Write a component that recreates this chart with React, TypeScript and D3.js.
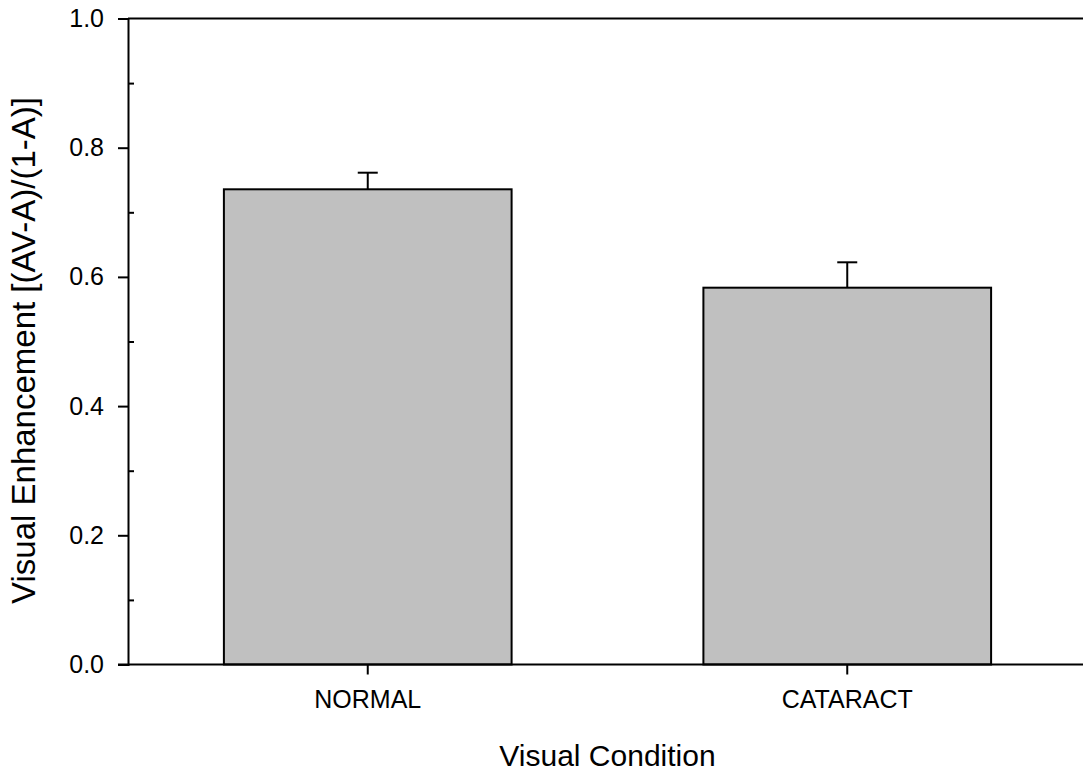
import React, { useEffect, useRef } from 'react';
import * as d3 from 'd3';

// data
const conditions = ['NORMAL', 'CATARACT'];
const enhancement = [0.7356, 0.5833];
const errorTop = [0.7613, 0.6226];
const majorTicks = [0, 0.2, 0.4, 0.6, 0.8, 1.0];
const minorTicks = [0.1, 0.3, 0.5, 0.7, 0.9];

const App = () => {
  const svgRef = useRef<SVGSVGElement>(null);

  useEffect(() => {
    const width = 1083, height = 775;
    const left = 128, right = 1087, top = 18.5, bottom = 664.5;
    const font = 'Arial, "Liberation Sans", sans-serif';

    const svg = d3.select(svgRef.current);
    svg.selectAll('*').remove();
    svg.attr('width', width).attr('height', height).style('background', 'white');

    const x = d3.scaleBand()
      .domain(conditions)
      .range([left, right])
      .paddingInner(0.4)
      .paddingOuter(0.2);

    const y = d3.scaleLinear().domain([0, 1]).range([bottom, top]);

    // bars
    svg.selectAll('rect.bar')
      .data(conditions)
      .enter()
      .append('rect')
      .attr('class', 'bar')
      .attr('x', d => x(d))
      .attr('width', x.bandwidth())
      .attr('y', (d, i) => y(enhancement[i]))
      .attr('height', (d, i) => y(0) - y(enhancement[i]))
      .attr('fill', '#c0c0c0')
      .attr('stroke', '#000')
      .attr('stroke-width', 2);

    // error bars (upper only)
    const err = svg.append('g').attr('stroke', '#000').attr('stroke-width', 2);
    conditions.forEach((c, i) => {
      const cx = x(c) + x.bandwidth() / 2;
      err.append('line')
        .attr('x1', cx).attr('x2', cx)
        .attr('y1', y(enhancement[i])).attr('y2', y(errorTop[i]));
      err.append('line')
        .attr('x1', cx - 10).attr('x2', cx + 10)
        .attr('y1', y(errorTop[i])).attr('y2', y(errorTop[i]));
    });

    // frame: top line
    svg.append('line')
      .attr('x1', left).attr('x2', width + 10)
      .attr('y1', y(1)).attr('y2', y(1))
      .attr('stroke', '#000').attr('stroke-width', 2);

    // y axis
    const yAxis = svg.append('g')
      .attr('transform', `translate(${left},0)`)
      .call(d3.axisLeft(y).tickValues(majorTicks).tickFormat(d3.format('.1f')).tickSize(10).tickPadding(14));
    yAxis.select('.domain').attr('stroke-width', 2);
    yAxis.selectAll('line').attr('stroke-width', 2);
    yAxis.selectAll('text').style('font-family', font).style('font-size', '25px').attr('fill', '#000');

    svg.append('g')
      .attr('transform', `translate(${left},0)`)
      .call(d3.axisRight(y).tickValues(minorTicks).tickFormat(() => '').tickSize(6))
      .call(g => g.select('.domain').remove())
      .selectAll('line').attr('stroke-width', 2);

    // x axis
    const xAxis = svg.append('g')
      .attr('transform', `translate(0,${bottom})`)
      .call(d3.axisBottom(x).tickSize(10).tickPadding(16).tickSizeOuter(0));
    xAxis.select('.domain').attr('stroke-width', 2).attr('d', `M${left - 10},0H${width + 10}`);
    xAxis.selectAll('line').attr('stroke-width', 2);
    xAxis.selectAll('text').style('font-family', font).style('font-size', '25px').attr('fill', '#000');

    // axis titles
    svg.append('text')
      .attr('x', (left + right) / 2)
      .attr('y', 766)
      .attr('text-anchor', 'middle')
      .style('font-family', font)
      .style('font-size', '30px')
      .text('Visual Condition');

    svg.append('text')
      .attr('transform', `translate(35,${(top + bottom) / 2 + 9}) rotate(-90)`)
      .attr('text-anchor', 'middle')
      .style('font-family', font)
      .style('font-size', '33px')
      .text('Visual Enhancement [(AV-A)/(1-A)]');
  }, []);

  return (
    <div style={{ position: 'absolute', left: 0, top: 0 }}>
      <svg ref={svgRef} style={{ display: 'block' }} />
    </div>
  );
};

export default App;
